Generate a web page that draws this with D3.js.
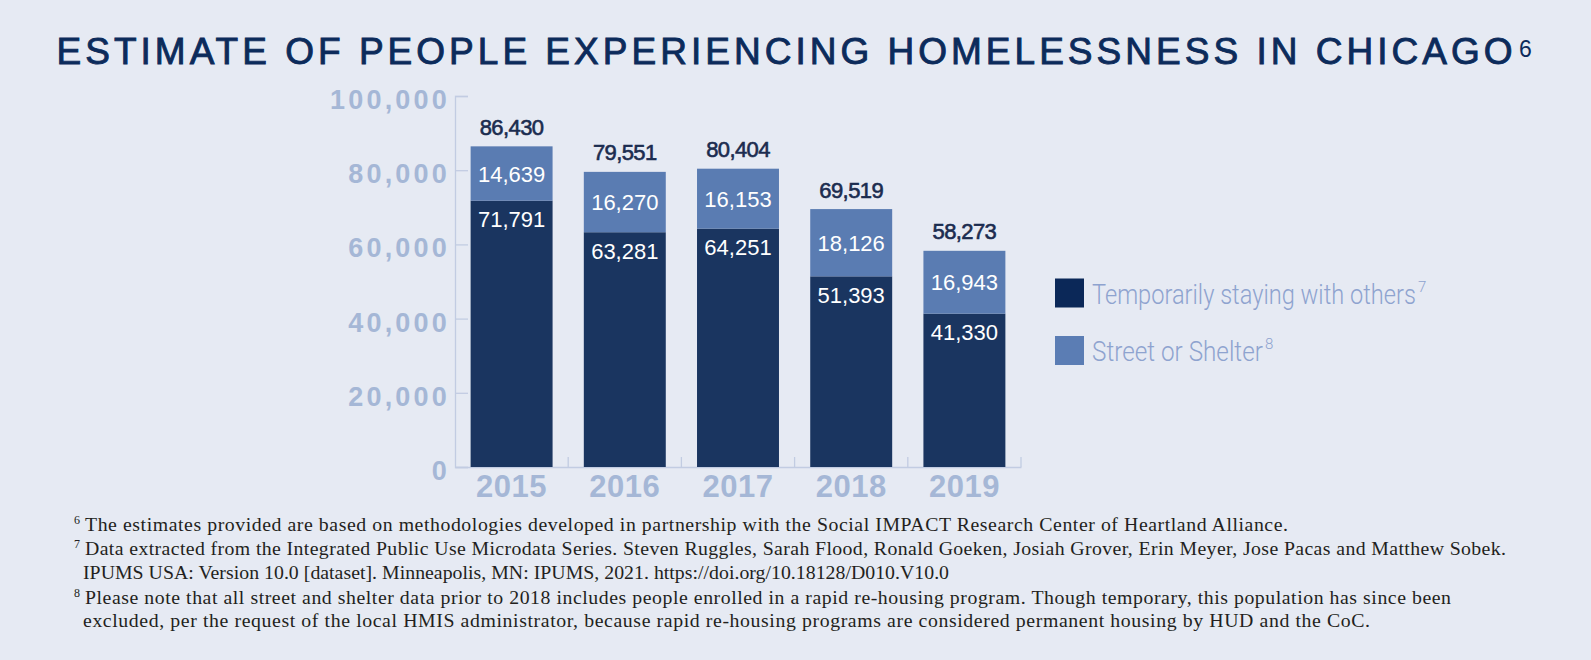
<!DOCTYPE html>
<html>
<head>
<meta charset="utf-8">
<script src="https://cdn.jsdelivr.net/npm/d3@7/dist/d3.min.js"></script>
<style>
  html, body { margin: 0; padding: 0; background: #e6eaf3; }
  svg { display: block; }
</style>
</head>
<body>
<svg id="chart" width="1591" height="660"></svg>
<script>
// ---- data ----
const years = ["2015", "2016", "2017", "2018", "2019"];
const temporarilyStaying = [71791, 63281, 64251, 51393, 41330];
const streetOrShelter = [14639, 16270, 16153, 18126, 16943];
const totals = [86430, 79551, 80404, 69519, 58273];
const yTicks = [0, 20000, 40000, 60000, 80000, 100000];
const seriesNames = ["Temporarily staying with others", "Street or Shelter"];
const seriesSup = ["7", "8"];
const titleText = "ESTIMATE OF PEOPLE EXPERIENCING HOMELESSNESS IN CHICAGO";
const footnotes = [
  {sup: "6", text: "The estimates provided are based on methodologies developed in partnership with the Social IMPACT Research Center of Heartland Alliance."},
  {sup: "7", text: "Data extracted from the Integrated Public Use Microdata Series. Steven Ruggles, Sarah Flood, Ronald Goeken, Josiah Grover, Erin Meyer, Jose Pacas and Matthew Sobek."},
  {sup: "",  text: "IPUMS USA: Version 10.0 [dataset]. Minneapolis, MN: IPUMS, 2021. https://doi.org/10.18128/D010.V10.0"},
  {sup: "8", text: "Please note that all street and shelter data prior to 2018 includes people enrolled in a rapid re-housing program. Though temporary, this population has since been"},
  {sup: "",  text: "excluded, per the request of the local HMIS administrator, because rapid re-housing programs are considered permanent housing by HUD and the CoC."}
];

// ---- styles ----
const C = {
  dark: "#1a3560", light: "#5a7cb2",
  legDark: "#0b2858", legLight: "#5b7db4",
  title: "#0c2b5b", axis: "#c2cce2", tick: "#a5b7d6",
  total: "#1b2c4f", legText: "#8ea3cf", foot: "#231f20"
};

const svg = d3.select("#chart");
svg.append("rect").attr("width", 1591).attr("height", 660).attr("fill", "#e6eaf3");

// title
svg.append("text")
  .attr("x", 56.5).attr("y", 63.5)
  .attr("font-family", "'Liberation Sans', Arial, sans-serif")
  .attr("font-size", 37).attr("fill", C.title)
  .attr("stroke", C.title).attr("stroke-width", 0.9)
  .attr("textLength", 1456).attr("lengthAdjust", "spacing")
  .text(titleText);
svg.append("text")
  .attr("x", 1519).attr("y", 56.5)
  .attr("font-family", "'Liberation Sans', Arial, sans-serif")
  .attr("font-size", 23).attr("fill", C.title)
  .text("6");

// scales
const x = d3.scaleBand().domain(years).range([455, 1021]).paddingInner(0.276).paddingOuter(0.138);
const y = d3.scaleLinear().domain([0, 100000]).range([467, 96]);

const rows = years.map((yr, i) => ({year: yr, temp: temporarilyStaying[i], street: streetOrShelter[i], total: totals[i]}));
const stack = d3.stack().keys(["temp", "street"]);
const layers = stack(rows);

// axes
const yAxis = d3.axisRight(y).tickValues(yTicks).tickSize(13).tickFormat("");
const gy = svg.append("g").attr("transform", "translate(455,0)").call(yAxis);
gy.selectAll("path, line").attr("stroke", C.axis).attr("stroke-width", 1.3);

const xAxis = d3.axisTop(x).tickSize(0).tickFormat("");
const gx = svg.append("g").attr("transform", "translate(0,467)").call(xAxis);
gx.select("path").attr("stroke", C.axis).attr("stroke-width", 1.3);
// band boundary ticks
const bounds = years.map(yr => x(yr) + x.bandwidth() + x.step() * x.paddingInner() / 2);
svg.append("g").selectAll("line").data(bounds).join("line")
  .attr("x1", d => d).attr("x2", d => d).attr("y1", 467).attr("y2", 457)
  .attr("stroke", C.axis).attr("stroke-width", 1.3);

// y tick labels
svg.append("g").selectAll("text").data(yTicks).join("text")
  .attr("x", 450).attr("y", d => y(d) + 13)
  .attr("text-anchor", "end")
  .attr("font-family", "'Liberation Sans', Arial, sans-serif")
  .attr("font-weight", "bold").attr("font-size", 27)
  .attr("letter-spacing", 3.2)
  .attr("fill", C.tick)
  .text(d => d3.format(",")(d));

// bars
const colors = [C.dark, C.light];
svg.append("g").selectAll("g").data(layers).join("g")
  .attr("fill", (d, i) => colors[i])
  .selectAll("rect").data(d => d).join("rect")
  .attr("x", d => x(d.data.year))
  .attr("width", x.bandwidth())
  .attr("y", d => y(d[1]))
  .attr("height", d => y(d[0]) - y(d[1]));

// year labels
svg.append("g").selectAll("text").data(years).join("text")
  .attr("x", d => x(d) + x.bandwidth() / 2).attr("y", 497)
  .attr("text-anchor", "middle")
  .attr("font-family", "'Liberation Sans', Arial, sans-serif")
  .attr("font-weight", "bold").attr("font-size", 31)
  .attr("letter-spacing", 0.5)
  .attr("fill", C.tick)
  .text(d => d);

const fmt = d3.format(",");
const lblFont = "'Liberation Sans', Arial, sans-serif";
// totals
svg.append("g").selectAll("text").data(rows).join("text")
  .attr("x", d => x(d.year) + x.bandwidth() / 2)
  .attr("y", d => y(d.total) - 11.5)
  .attr("text-anchor", "middle")
  .attr("font-family", lblFont).attr("font-size", 22)
  .attr("letter-spacing", -0.6)
  .attr("fill", C.total).attr("stroke", C.total).attr("stroke-width", 0.6)
  .text(d => fmt(d.total));
// street labels
svg.append("g").selectAll("text").data(layers[1]).join("text")
  .attr("x", d => x(d.data.year) + x.bandwidth() / 2)
  .attr("y", d => (y(d[0]) + y(d[1])) / 2 + 8)
  .attr("text-anchor", "middle")
  .attr("font-family", lblFont).attr("font-size", 22)
  .attr("fill", "#ffffff")
  .text(d => fmt(d.data.street));
// temp labels
svg.append("g").selectAll("text").data(layers[0]).join("text")
  .attr("x", d => x(d.data.year) + x.bandwidth() / 2)
  .attr("y", d => y(d[1]) + 26.5)
  .attr("text-anchor", "middle")
  .attr("font-family", lblFont).attr("font-size", 22)
  .attr("fill", "#ffffff")
  .text(d => fmt(d.data.temp));

// legend
const legColors = [C.legDark, C.legLight];
const legW = [324, 171];
const leg = svg.append("g").selectAll("g").data(seriesNames).join("g")
  .attr("transform", (d, i) => `translate(1055,${278.5 + i * 57.5})`);
leg.append("rect").attr("width", 29).attr("height", 29).attr("fill", (d, i) => legColors[i]);
leg.each(function(d, i) {
  const g = d3.select(this);
  const t = g.append("text")
    .attr("x", 0).attr("y", 0)
    .attr("font-family", "Roboto, 'Liberation Sans', sans-serif")
    .attr("font-weight", 300).attr("font-size", 27)
    .attr("fill", C.legText)
    .text(d);
  const natural = t.node().getComputedTextLength();
  const sx = legW[i] / natural;
  t.attr("transform", `translate(37,25) scale(${sx},1)`);
  g.append("text")
    .attr("x", 37 + legW[i] + 2).attr("y", 13)
    .attr("font-family", "Roboto, 'Liberation Sans', sans-serif")
    .attr("font-weight", 300).attr("font-size", 15)
    .attr("fill", C.legText)
    .text(seriesSup[i]);
});

// footnotes
const footY = [531, 555, 579, 603.5, 627];
const footEnd = [1288, 1506, 949, 1451, 1370];
const footStart = [85, 85, 83, 85, 83];
const fg = svg.append("g");
footnotes.forEach((f, i) => {
  if (f.sup) {
    fg.append("text").attr("x", 74).attr("y", footY[i] - 7)
      .attr("font-family", "'Liberation Serif', 'Times New Roman', serif")
      .attr("font-size", 12).attr("fill", C.foot).text(f.sup);
  }
  fg.append("text").attr("x", footStart[i]).attr("y", footY[i])
    .attr("font-family", "'Liberation Serif', 'Times New Roman', serif")
    .attr("font-size", 19.8).attr("fill", C.foot)
    .attr("textLength", footEnd[i] - footStart[i]).attr("lengthAdjust", "spacing")
    .text(f.text);
});
</script>
</body>
</html>
